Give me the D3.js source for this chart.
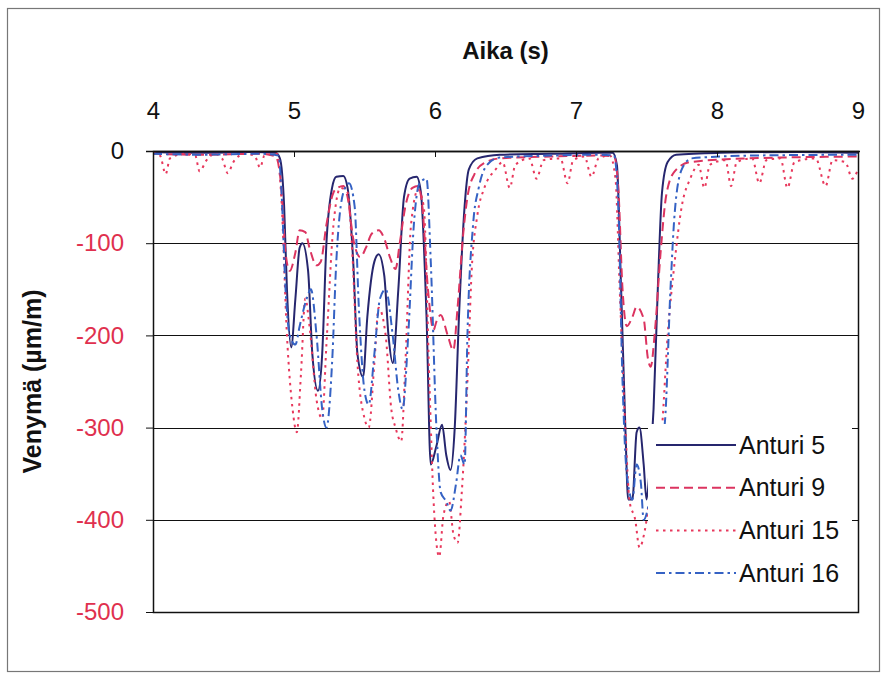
<!DOCTYPE html>
<html>
<head>
<meta charset="utf-8">
<script src="https://cdn.jsdelivr.net/npm/d3@7"></script>
<style>
    body { margin: 0; background: #fff; }
    svg { font-family: Arial, "Liberation Sans", sans-serif; }
    .gridLine { stroke: #111; stroke-width: 1; }
    .series { fill: none; stroke-width: 2; stroke-linejoin: round; }
</style>
</head>
<body>
<div id="chartContainer"></div>
<script>
/***** Data: [time (s), strain (µm/m)] */

const xTicks = [4, 5, 6, 7, 8, 9];
const yTicks = [0, -100, -200, -300, -400, -500];
const seriesNames = ['Anturi 5', 'Anturi 9', 'Anturi 15', 'Anturi 16'];

const anturi5 = [
    [4.00, -1], [4.33, -2], [4.69, -1], [4.87, -2], [4.90, -8], [4.93, -60], [4.95, -150],
    [4.98, -213], [5.01, -160], [5.04, -105], [5.06, -100], [5.10, -130], [5.13, -220],
    [5.17, -260], [5.20, -220], [5.23, -100], [5.27, -40], [5.30, -28], [5.35, -27],
    [5.38, -40], [5.42, -120], [5.45, -220], [5.49, -245], [5.52, -180], [5.57, -120],
    [5.60, -112], [5.64, -135], [5.67, -200], [5.70, -230], [5.74, -150], [5.78, -50],
    [5.82, -30], [5.87, -28], [5.90, -45], [5.94, -180], [5.97, -340], [6.01, -320],
    [6.05, -297], [6.08, -330], [6.11, -346], [6.14, -300], [6.17, -180], [6.21, -60],
    [6.24, -20], [6.30, -8], [6.46, -4], [6.82, -3], [7.17, -2], [7.26, -2], [7.29, -15],
    [7.32, -150], [7.35, -300], [7.37, -378], [7.40, -378], [7.43, -305], [7.45, -300],
    [7.48, -340], [7.50, -378], [7.52, -350], [7.55, -280], [7.58, -150], [7.61, -45],
    [7.65, -12], [7.71, -4], [8.02, -2], [8.59, -1], [9.00, -2]
];

const anturi9 = [
    [4.00, -3], [4.33, -4], [4.76, -3], [4.87, -6], [4.91, -40], [4.94, -110], [4.97, -130],
    [5.01, -110], [5.04, -86], [5.08, -88], [5.11, -105], [5.16, -124], [5.19, -120],
    [5.23, -80], [5.28, -45], [5.31, -40], [5.35, -38], [5.38, -50], [5.42, -95],
    [5.47, -115], [5.51, -105], [5.55, -90], [5.60, -86], [5.64, -95], [5.68, -115],
    [5.72, -128], [5.75, -100], [5.79, -60], [5.84, -40], [5.88, -38], [5.91, -60],
    [5.95, -150], [5.99, -194], [6.01, -185], [6.04, -178], [6.09, -200], [6.13, -216],
    [6.16, -170], [6.20, -90], [6.23, -50], [6.28, -25], [6.35, -13], [6.46, -8],
    [6.82, -6], [7.17, -5], [7.27, -6], [7.30, -40], [7.33, -150], [7.36, -190],
    [7.40, -180], [7.43, -169], [7.48, -182], [7.51, -225], [7.53, -234], [7.56, -195],
    [7.60, -110], [7.64, -48], [7.70, -22], [7.81, -12], [8.23, -8], [9.00, -6]
];

const anturi15 = [
    [4.00, -2], [4.05, -5], [4.09, -25], [4.12, -8], [4.23, -3], [4.30, -5], [4.33, -22],
    [4.38, -10], [4.44, -3], [4.49, -8], [4.53, -24], [4.57, -12], [4.65, -3], [4.72, -5],
    [4.76, -18], [4.79, -5], [4.88, -3], [4.91, -50], [4.95, -200], [4.99, -280],
    [5.02, -305], [5.05, -240], [5.08, -160], [5.11, -190], [5.16, -270], [5.20, -290],
    [5.23, -210], [5.28, -80], [5.33, -40], [5.38, -45], [5.41, -100], [5.45, -230],
    [5.50, -290], [5.53, -300], [5.57, -230], [5.60, -170], [5.65, -200], [5.69, -280],
    [5.72, -300], [5.76, -315], [5.79, -230], [5.83, -80], [5.88, -42], [5.92, -60],
    [5.96, -250], [5.99, -380], [6.03, -440], [6.06, -395], [6.10, -380], [6.13, -415],
    [6.16, -425], [6.19, -370], [6.23, -250], [6.26, -130], [6.30, -70], [6.35, -40],
    [6.43, -20], [6.48, -12], [6.53, -40], [6.57, -15], [6.67, -8], [6.72, -30],
    [6.77, -10], [6.89, -8], [6.94, -35], [6.98, -10], [7.06, -6], [7.11, -28], [7.16, -8],
    [7.24, -5], [7.28, -30], [7.31, -150], [7.35, -300], [7.38, -380], [7.42, -400],
    [7.45, -430], [7.49, -410], [7.52, -380], [7.56, -360], [7.61, -300], [7.65, -200],
    [7.70, -120], [7.75, -60], [7.81, -30], [7.87, -15], [7.91, -40], [7.95, -15],
    [8.06, -10], [8.10, -38], [8.14, -12], [8.25, -8], [8.30, -35], [8.35, -10],
    [8.45, -8], [8.50, -40], [8.55, -12], [8.70, -8], [8.77, -38], [8.82, -10],
    [8.91, -12], [8.96, -30], [9.00, -20]
];

const anturi16 = [
    [4.00, -3], [4.33, -4], [4.76, -3], [4.89, -5], [4.91, -40], [4.94, -150], [4.97, -200],
    [5.01, -210], [5.04, -190], [5.09, -160], [5.12, -150], [5.16, -200], [5.20, -280],
    [5.23, -300], [5.27, -230], [5.30, -120], [5.35, -45], [5.39, -35], [5.43, -60],
    [5.46, -170], [5.50, -260], [5.53, -275], [5.57, -220], [5.61, -160], [5.65, -150],
    [5.70, -200], [5.74, -260], [5.77, -280], [5.81, -200], [5.85, -80], [5.89, -35],
    [5.94, -30], [5.97, -120], [6.01, -300], [6.04, -370], [6.08, -380], [6.11, -390],
    [6.15, -360], [6.18, -330], [6.21, -340], [6.23, -200], [6.27, -80], [6.31, -40],
    [6.37, -15], [6.46, -7], [6.82, -5], [7.17, -4], [7.27, -5], [7.30, -60], [7.33, -250],
    [7.36, -350], [7.40, -378], [7.43, -340], [7.46, -360], [7.48, -400], [7.52, -380],
    [7.55, -350], [7.60, -320], [7.63, -295], [7.67, -150], [7.70, -67], [7.75, -20],
    [7.82, -8], [8.23, -5], [9.00, -4]
];

const seriesData = [anturi5, anturi9, anturi15, anturi16];
const seriesColors = ['#26266e', '#dc3460', '#e8385c', '#3562c4'];
const seriesDashes = [null, '9,5', '2.5,4.5', '9,4,2.5,4'];

/***** Drawing */

const width = 886;
const height = 679;
const margin = { top: 151, right: 28, bottom: 67, left: 153 };
const plotWidth = width - margin.left - margin.right;
const plotHeight = height - margin.top - margin.bottom;
const fontFamily = 'Arial, "Liberation Sans", sans-serif';

const svg = d3.select('#chartContainer').append('svg')
    .attr('width', width)
    .attr('height', height);

// outer chart frame
svg.append('rect')
    .attr('x', 7.5).attr('y', 8.5)
    .attr('width', 872).attr('height', 663)
    .attr('fill', 'none')
    .attr('stroke', '#777')
    .attr('stroke-width', 1.2);

const x = d3.scaleLinear().domain([4, 9]).range([0, plotWidth]);
const y = d3.scaleLinear().domain([0, -500]).range([0, plotHeight]);

const chartGroup = svg.append('g')
    .attr('transform', `translate(${margin.left}, ${margin.top})`);

svg.append('clipPath').attr('id', 'plotClip')
    .append('rect')
    .attr('x', 0).attr('y', -1)
    .attr('width', plotWidth).attr('height', plotHeight + 1);

// horizontal grid lines
chartGroup.selectAll('.gridLine')
    .data(yTicks.filter(v => v !== 0 && v !== -500))
    .enter()
    .append('line')
    .attr('class', 'gridLine')
    .attr('x1', 0)
    .attr('x2', plotWidth)
    .attr('y1', v => Math.round(y(v)) + 0.5)
    .attr('y2', v => Math.round(y(v)) + 0.5);

// series lines
const line = d3.line()
    .x(d => x(d[0]))
    .y(d => y(d[1]))
    .curve(d3.curveMonotoneX);

chartGroup.append('g')
    .attr('clip-path', 'url(#plotClip)')
    .selectAll('.series')
    .data(seriesData)
    .enter()
    .append('path')
    .attr('class', 'series')
    .attr('d', line)
    .attr('stroke', (d, i) => seriesColors[i])
    .attr('stroke-dasharray', (d, i) => seriesDashes[i]);

// plot border: left, right and bottom
chartGroup.append('rect')
    .attr('x', 0.5).attr('y', 0.5)
    .attr('width', plotWidth).attr('height', plotHeight)
    .attr('fill', 'none')
    .attr('stroke', '#111')
    .attr('stroke-width', 1.5);

// plain hyphen for the minus sign, as in the original
const tickText = v => `${v}`;

// top x axis, ticks pointing into the plot
const xAxis = chartGroup.append('g')
    .call(d3.axisTop(x).tickValues(xTicks).tickSize(-6).tickPadding(32).tickFormat(tickText));
xAxis.select('.domain').attr('d', `M-7,0.5H${plotWidth + 2}`).attr('stroke', '#111').attr('stroke-width', 1.5);
xAxis.selectAll('.tick line').attr('stroke', '#111');
xAxis.selectAll('.tick text')
    .attr('font-size', 24)
    .attr('fill', '#111')
    .attr('font-family', fontFamily);

// left y axis, ticks pointing out
const yAxis = chartGroup.append('g')
    .call(d3.axisLeft(y).tickValues(yTicks).tickSize(7).tickPadding(22).tickFormat(tickText));
yAxis.select('.domain').remove();
yAxis.selectAll('.tick line').attr('stroke', '#111');
yAxis.selectAll('.tick text')
    .attr('font-size', 24)
    .attr('fill', v => v === 0 ? '#111' : '#e0304e')
    .attr('font-family', fontFamily);

// axis titles
svg.append('text')
    .attr('x', margin.left + plotWidth / 2)
    .attr('y', 59)
    .attr('text-anchor', 'middle')
    .attr('font-size', 24)
    .attr('font-weight', 'bold')
    .attr('fill', '#111')
    .text('Aika (s)');

svg.append('text')
    .attr('transform', `translate(41, ${margin.top + plotHeight / 2}) rotate(-90)`)
    .attr('text-anchor', 'middle')
    .attr('font-size', 25)
    .attr('font-weight', 'bold')
    .attr('fill', '#111')
    .text('Venymä (µm/m)');

// legend, white box over the lower right part of the plot
const legend = svg.append('g').attr('transform', 'translate(648, 424)');
legend.append('rect')
    .attr('width', 204).attr('height', 174)
    .attr('fill', '#fff');

const legendRows = legend.selectAll('.legendRow')
    .data(seriesNames)
    .enter()
    .append('g')
    .attr('class', 'legendRow')
    .attr('transform', (name, i) => `translate(0, ${21 + i * 42.7})`);
legendRows.append('line')
    .attr('x1', 8).attr('x2', 88)
    .attr('stroke', (name, i) => seriesColors[i])
    .attr('stroke-width', 2)
    .attr('stroke-dasharray', (name, i) => seriesDashes[i]);
legendRows.append('text')
    .attr('x', 91)
    .attr('dy', '0.35em')
    .attr('font-size', 25)
    .attr('fill', '#111')
    .attr('font-family', fontFamily)
    .text(name => name);
</script>
</body>
</html>
